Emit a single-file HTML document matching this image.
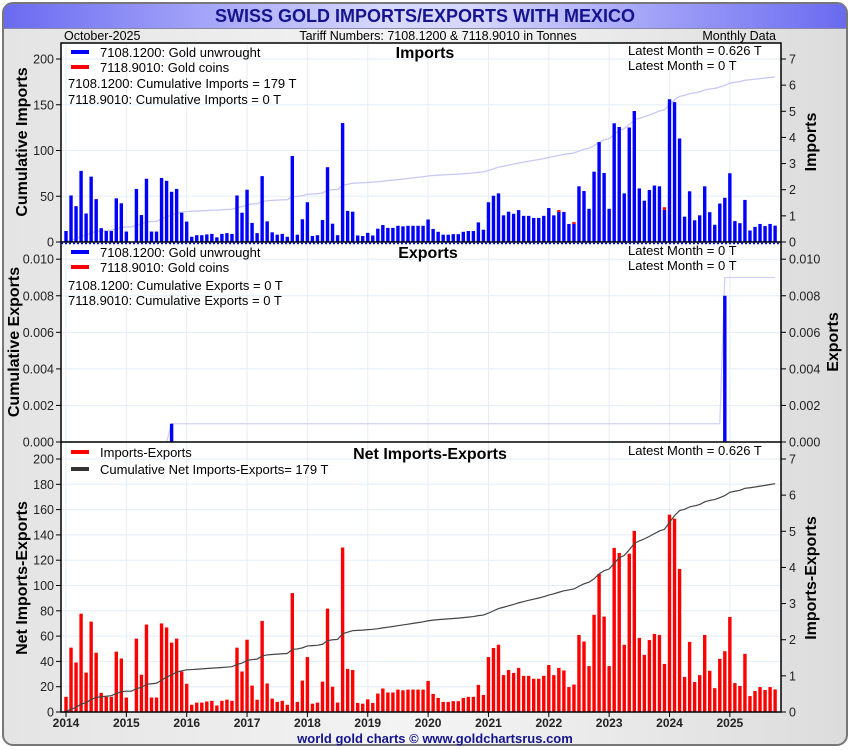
<!DOCTYPE html>
<html><head><meta charset="utf-8"><style>
html,body{margin:0;padding:0;background:#fff}
svg{display:block;font-family:"Liberation Sans",sans-serif}
</style></head><body>
<svg id="chart" width="850" height="750" viewBox="0 0 850 750" xmlns="http://www.w3.org/2000/svg">
<defs>
<linearGradient id="bg" x1="0" y1="0" x2="1" y2="0"><stop offset="0" stop-color="#e4e4e4"/><stop offset="0.5" stop-color="#f4f4f4"/><stop offset="1" stop-color="#dcdcdc"/></linearGradient>
<linearGradient id="tb" x1="0" y1="0" x2="1" y2="0"><stop offset="0" stop-color="#6a6af0"/><stop offset="0.45" stop-color="#d8d8ff"/><stop offset="0.55" stop-color="#d8d8ff"/><stop offset="1" stop-color="#6a6af0"/></linearGradient>
</defs>
<rect x="3" y="3" width="844" height="742" rx="10" fill="url(#bg)" stroke="#777" stroke-width="2"/>
<path d="M4,28 L4,13 Q4,4 13,4 L837,4 Q846,4 846,13 L846,28 Z" fill="url(#tb)"/>
<line x1="4" y1="28.5" x2="846" y2="28.5" stroke="#8888aa"/>
<text x="425" y="22" text-anchor="middle" font-size="18" font-weight="bold" fill="#14148c">SWISS GOLD IMPORTS/EXPORTS WITH MEXICO</text>
<text x="64" y="40" font-size="12.5" fill="#000">October-2025</text>
<text x="438" y="40" text-anchor="middle" font-size="12.5" fill="#000">Tariff Numbers: 7108.1200 &amp; 7118.9010 in Tonnes</text>
<text x="776" y="40" text-anchor="end" font-size="12.5" fill="#000">Monthly Data</text>
<rect x="61" y="43" width="720" height="669" fill="#fff"/>
<g id="grid"></g>
<g id="marks"></g>
<g id="axes"></g>
<g id="labels" font-size="13" fill="#000">
<line x1="71" y1="52" x2="89" y2="52" stroke="#0000ff" stroke-width="4"/>
<text x="100" y="57">7108.1200: Gold unwrought</text>
<line x1="71" y1="67" x2="89" y2="67" stroke="#ff0000" stroke-width="4"/>
<text x="100" y="72">7118.9010: Gold coins</text>
<text x="68" y="88">7108.1200: Cumulative Imports = 179 T</text>
<text x="68" y="104">7118.9010: Cumulative Imports = 0 T</text>
<text x="425" y="58" text-anchor="middle" font-size="16" font-weight="bold">Imports</text>
<text x="628" y="55">Latest Month = 0.626 T</text>
<text x="628" y="70">Latest Month = 0 T</text>

<line x1="71" y1="252" x2="89" y2="252" stroke="#0000ff" stroke-width="4"/>
<text x="100" y="257">7108.1200: Gold unwrought</text>
<line x1="71" y1="267" x2="89" y2="267" stroke="#ff0000" stroke-width="4"/>
<text x="100" y="272">7118.9010: Gold coins</text>
<text x="68" y="290">7108.1200: Cumulative Exports = 0 T</text>
<text x="68" y="305">7118.9010: Cumulative Exports = 0 T</text>
<text x="428" y="258" text-anchor="middle" font-size="16" font-weight="bold">Exports</text>
<text x="628" y="255">Latest Month = 0 T</text>
<text x="628" y="270">Latest Month = 0 T</text>

<line x1="71" y1="452" x2="89" y2="452" stroke="#ff0000" stroke-width="4"/>
<text x="100" y="457">Imports-Exports</text>
<line x1="71" y1="469" x2="89" y2="469" stroke="#333" stroke-width="4"/>
<text x="100" y="474">Cumulative Net Imports-Exports= 179 T</text>
<text x="430" y="459" text-anchor="middle" font-size="16" font-weight="bold">Net Imports-Exports</text>
<text x="628" y="455">Latest Month = 0.626 T</text>

<text transform="translate(27,142) rotate(-90)" text-anchor="middle" font-size="16" font-weight="bold">Cumulative Imports</text>
<text transform="translate(816,142) rotate(-90)" text-anchor="middle" font-size="16" font-weight="bold">Imports</text>
<text transform="translate(19,342) rotate(-90)" text-anchor="middle" font-size="16" font-weight="bold">Cumulative Exports</text>
<text transform="translate(838,342) rotate(-90)" text-anchor="middle" font-size="16" font-weight="bold">Exports</text>
<text transform="translate(27,578) rotate(-90)" text-anchor="middle" font-size="16" font-weight="bold">Net Imports-Exports</text>
<text transform="translate(816,578) rotate(-90)" text-anchor="middle" font-size="16" font-weight="bold">Imports-Exports</text>
<text x="435" y="743" text-anchor="middle" font-size="13" font-weight="bold" fill="#14148c">world gold charts © www.goldchartsrus.com</text>
</g>
</svg>
<script>
const years = ["2014","2015","2016","2017","2018","2019","2020","2021","2022","2023","2024","2025"];
const unwrought = [
0.42,1.78,1.37,2.72,1.09,2.50,1.64,0.53,0.42,0.42,1.67,1.48,
0.40,0,2.03,1.03,2.42,0.40,0.40,2.45,2.34,1.92,2.03,1.12,
0.78,0.20,0.26,0.26,0.29,0.31,0.18,0.31,0.34,0.31,1.78,1.12,
2.00,0.73,0.34,2.52,0.79,0.37,0.28,0.31,0.20,3.29,0.28,0.87,
1.52,0.23,0.26,0.84,2.86,0.70,0.26,4.55,1.19,1.16,0.25,0.23,
0.35,0.25,0.51,0.65,0.54,0.54,0.62,0.60,0.62,0.62,0.62,0.62,
0.86,0.50,0.39,0.28,0.28,0.30,0.30,0.39,0.42,0.42,0.75,0.47,
1.52,1.77,1.86,1.02,1.16,1.08,1.22,1.00,1.00,0.92,0.92,1.00,
1.30,1.02,1.15,1.15,0.69,0.69,2.13,1.95,1.27,2.69,3.82,2.64,
1.27,4.54,4.40,1.86,4.38,5.01,2.05,1.58,1.99,2.16,2.13,1.23,
5.46,5.35,3.96,0.97,1.94,0.83,1.02,2.13,1.14,0.66,1.47,1.69,
2.63,0.80,0.72,1.61,0.44,0.58,0.69,0.61,0.69,0.626];
const coinMonths = [98,101,119];
const coinValues = [0.07,0.07,0.10];
const exportMonths = [21,131];
const exportValues = [0.001,0.008];
const importTicksL = [0,50,100,150,200];
const rightTicks = [0,1,2,3,4,5,6,7];
const exportTicks = ["0.000","0.002","0.004","0.006","0.008","0.010"];
const netTicksL = [0,20,40,60,80,100,120,140,160,180,200];

const NS="http://www.w3.org/2000/svg";
function mk(tag, attrs, parent){const e=document.createElementNS(NS,tag);for(const k in attrs)e.setAttribute(k,attrs[k]);parent.appendChild(e);return e;}
const grid=document.getElementById('grid'), marks=document.getElementById('marks'), axes=document.getElementById('axes');
const N=unwrought.length;
const coins=new Array(N).fill(0); coinMonths.forEach((m,i)=>coins[m]=coinValues[i]);
const exps=new Array(N).fill(0); exportMonths.forEach((m,i)=>exps[m]=exportValues[i]);
function x(i){return 66+i*60.35/12;}
const yImpR=v=>242-v*183/7, yImpL=v=>242-v*183/200;
const yExp=v=>442-v*18280;
const yNetR=v=>712-v*253/7, yNetL=v=>712-v*253/200;
const XL=61, XR=781;
// grid
years.forEach((yr,k)=>{const gx=x(k*12);
 const g=mk('line',{x1:gx,x2:gx,y1:43,y2:712,stroke:'#e3eef8','stroke-width':1},grid);
 
 });
importTicksL.forEach(v=>{const l=mk('line',{x1:XL,x2:XR,y1:yImpL(v),y2:yImpL(v),stroke:'#e3eef8'},grid);
 
 });
exportTicks.forEach(t=>{const yy=yExp(parseFloat(t));const l=mk('line',{x1:XL,x2:XR,y1:yy,y2:yy,stroke:'#e3eef8'},grid);
 
 });
netTicksL.forEach(v=>{const l=mk('line',{x1:XL,x2:XR,y1:yNetL(v),y2:yNetL(v),stroke:'#e3eef8'},grid);
 
 });
// cumulative lines
let ci=0,ce=0,cn=0;const pI=[],pE=[],pN=[];
for(let i=0;i<N;i++){ci+=unwrought[i]+coins[i];ce+=exps[i];cn+=unwrought[i]+coins[i]-exps[i];
 pI.push(x(i)+','+yImpL(ci));pE.push(x(i)+','+yExp(ce));pN.push(x(i)+','+yNetL(cn));}
const lI=mk('polyline',{points:pI.join(' '),fill:'none',stroke:'#c8c8f4','stroke-width':1.3},marks);


const lE=mk('polyline',{points:pE.join(' '),fill:'none',stroke:'#d0d0f8','stroke-width':1.3},marks);


// bars
const bw=3.4;
for(let i=0;i<N;i++){
 const u=unwrought[i], c=coins[i], e=exps[i], n=u+c-e;
 if(u>0){const b=mk('rect',{x:x(i)-bw/2,y:yImpR(u),width:bw,height:242-yImpR(u),fill:'#0000ff'},marks);
  
  }
 if(c>0){const b=mk('rect',{x:x(i)-bw/2,y:yImpR(u+c),width:bw,height:yImpR(u)-yImpR(u+c),fill:'#ff0000'},marks);
  
  }
 if(e>0){const b=mk('rect',{x:x(i)-bw/2,y:yExp(e),width:bw,height:442-yExp(e),fill:'#0000ff'},marks);
  
  }
 if(n>0){const b=mk('rect',{x:x(i)-bw/2,y:yNetR(n),width:bw,height:712-yNetR(n),fill:'#ff0000'},marks);
  
  }
}
const lN=mk('polyline',{points:pN.join(' '),fill:'none',stroke:'#444','stroke-width':1.2},marks);


// axes frame
const fr=mk('rect',{x:XL,y:43,width:XR-XL,height:669,fill:'none',stroke:'#000','stroke-width':1.5},axes);


[242,442].forEach(yy=>{const l=mk('line',{x1:XL,x2:XR,y1:yy,y2:yy,stroke:'#000','stroke-width':1.5},axes);
 
 });
const dl=mk('line',{x1:XL,x2:XR,y1:243.5,y2:243.5,stroke:'#0000ff','stroke-width':1.5,'stroke-dasharray':'2,2'},axes);


function tick(xx,yy,label,anchor,dx,name){
 mk('line',{x1:xx,x2:xx+(anchor==='end'?-5:5),y1:yy,y2:yy,stroke:'#000'},axes);
 const t=mk('text',{x:xx+dx,y:yy+4.5,'text-anchor':anchor,'font-size':12.5,fill:'#222'},axes);
 t.textContent=label;
 
 }
importTicksL.forEach(v=>tick(XL,yImpL(v),String(v),'end',-7,'imports-left-tick-label'));
rightTicks.forEach(v=>tick(XR,yImpR(v),String(v),'start',8,'imports-right-tick-label'));
exportTicks.forEach(t=>{tick(XL,yExp(parseFloat(t)),t,'end',-7,'exports-left-tick-label');tick(XR,yExp(parseFloat(t)),t,'start',8,'exports-right-tick-label');});
netTicksL.forEach(v=>tick(XL,yNetL(v),String(v),'end',-7,'net-left-tick-label'));
rightTicks.forEach(v=>tick(XR,yNetR(v),String(v),'start',8,'net-right-tick-label'));
years.forEach((yr,k)=>{const gx=x(k*12);
 mk('line',{x1:gx,x2:gx,y1:712,y2:717,stroke:'#000'},axes);
 const t=mk('text',{x:gx,y:727,'text-anchor':'middle','font-size':12,'font-weight':'bold',fill:'#222'},axes);
 t.textContent=yr;
 
 });
</script>
</body></html>
